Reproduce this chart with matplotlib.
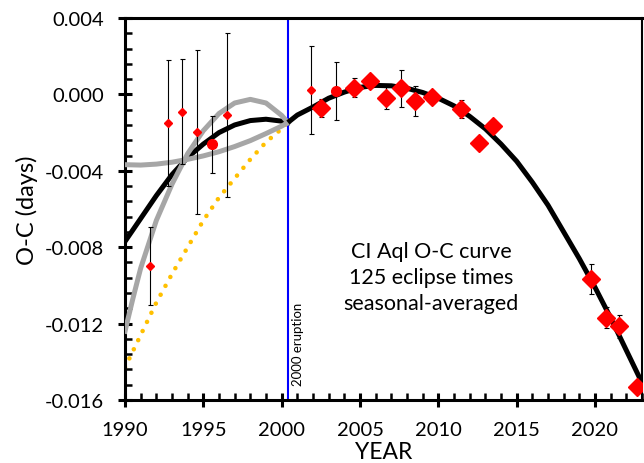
import matplotlib
matplotlib.use('Agg')

import matplotlib.pyplot as plt
from matplotlib.ticker import MultipleLocator, FormatStrFormatter

plt.rcParams['font.family'] = ['Lato', 'DejaVu Sans']

# seasonal-averaged O-C points, small diamonds (sparse early data)
small_year = [1991.6, 1992.74, 1993.66, 1994.57, 1996.49, 2001.9]
small_oc = [-0.0090, -0.00152, -0.00091, -0.00197, -0.00106, 0.00023]
small_err = [0.00205, 0.0033, 0.00275, 0.0043, 0.0043, 0.0023]

# circles
circ_year = [1995.53, 2003.47]
circ_oc = [-0.00262, 0.00018]
circ_err = [0.0015, 0.0015]

# large diamonds
big_year = [2002.53, 2004.59, 2005.63, 2006.65, 2007.59, 2008.51, 2009.57,
            2011.44, 2012.61, 2013.5, 2019.72, 2020.7, 2021.53, 2022.69]
big_oc = [-0.00071, 0.00035, 0.0007, -0.00021, 0.00031, -0.00035, -0.00014,
          -0.00077, -0.00255, -0.00166, -0.00966, -0.01169, -0.01214, -0.01534]
big_err = [0.00047, 0.0005, 0.0003, 0.00058, 0.00095, 0.0008, 0.0003,
           0.00046, 0.0003, 0.0003, 0.0008, 0.00056, 0.0006, 0.0003]

# fitted curves
fit_post_year = [2000.4, 2001, 2002, 2003, 2004, 2005, 2006, 2007, 2008,
                 2009, 2010, 2011, 2012, 2013, 2014, 2015, 2016, 2017, 2018,
                 2019, 2020, 2021, 2022, 2023]
fit_post_oc = [-0.00147, -0.00108, -0.00066, -0.0002, 0.00012, 0.00037,
               0.00047, 0.00045, 0.00032, 0.0001, -0.0002, -0.0006,
               -0.00115, -0.0018, -0.0026, -0.0035, -0.0046, -0.0058,
               -0.0072, -0.0086, -0.0101, -0.0117, -0.0134, -0.0151]

fit_pre_year = [1990, 1991, 1992, 1993, 1994, 1995, 1996, 1997, 1998, 1999,
                2000, 2000.4]
fit_pre_oc = [-0.0077, -0.0065, -0.0053, -0.0042, -0.0033, -0.0026, -0.0020,
              -0.0016, -0.00137, -0.0013, -0.0014, -0.00147]

steep_year = [1990, 1990.5, 1991, 1992, 1993, 1994, 1995, 1996, 1997, 1998,
              1999, 2000, 2000.4]
steep_oc = [-0.0124, -0.0107, -0.0091, -0.0066, -0.0047, -0.0031, -0.0019,
            -0.0010, -0.00045, -0.00026, -0.00045, -0.0011, -0.00147]

flat_year = [1990, 1991, 1992, 1993, 1994, 1995, 1996, 1997, 1998, 1999,
             2000, 2000.4]
flat_oc = [-0.00368, -0.00370, -0.00365, -0.00355, -0.00340, -0.00322,
           -0.00300, -0.00273, -0.00242, -0.00205, -0.00166, -0.00147]

dot_year = [1990, 1991, 1992, 1993, 1994, 1995, 1996, 1997, 1998, 1999,
            2000, 2000.4]
dot_oc = [-0.0143, -0.0126, -0.0109, -0.0094, -0.0080, -0.0066, -0.0054,
          -0.0044, -0.0034, -0.0025, -0.0018, -0.00147]

eruption_year = 2000.4

fig = plt.figure(figsize=(6.44, 4.64), dpi=100)
ax = fig.add_axes([125 / 644, 63 / 464, 517 / 644, 382 / 464])

# curves
ax.plot(dot_year, dot_oc, color='#FFC000', linewidth=3.3,
        linestyle=(0, (0.01, 2.2)), dash_capstyle='round', zorder=2)
ax.plot(fit_pre_year, fit_pre_oc, color='black', linewidth=3.6, zorder=3)
ax.plot(steep_year, steep_oc, color='#A6A6A6', linewidth=3.6, zorder=3)
ax.plot(flat_year, flat_oc, color='#A6A6A6', linewidth=3.6, zorder=3)
ax.plot(fit_post_year, fit_post_oc, color='black', linewidth=3.6, zorder=3,
        solid_capstyle='butt')

ax.axvline(eruption_year, color='#0000FF', linewidth=1.5, zorder=2)

# data points
ebkw = dict(ecolor='black', elinewidth=0.8, capsize=1.8, capthick=0.8,
            linestyle='none')
ax.errorbar(small_year, small_oc, yerr=small_err, fmt='D', ms=3.8,
            mfc='red', mec='red', zorder=4, **ebkw)
ax.errorbar(circ_year, circ_oc, yerr=circ_err, fmt='o', ms=7,
            mfc='red', mec='red', zorder=4, **ebkw)
ax.errorbar(big_year, big_oc, yerr=big_err, fmt='D', ms=9,
            mfc='red', mec='red', zorder=4, **ebkw)

# axes
ax.set_xlim(1990, 2023)
ax.set_ylim(-0.016, 0.004)
ax.xaxis.set_major_locator(MultipleLocator(5))
ax.xaxis.set_minor_locator(MultipleLocator(1))
ax.yaxis.set_major_locator(MultipleLocator(0.004))
ax.yaxis.set_minor_locator(MultipleLocator(0.0008))
ax.yaxis.set_major_formatter(FormatStrFormatter('%.3f'))

ax.tick_params(which='major', direction='inout', length=10, width=2.2,
               labelsize=14.5, pad=10)
ax.tick_params(which='minor', direction='in', length=5, width=1.8)
ax.tick_params(top=False, right=False, which='both')

for side in ('left', 'bottom', 'top'):
  ax.spines[side].set_linewidth(2.2)
ax.spines['right'].set_linewidth(1.5)

ax.set_xlabel('YEAR', fontsize=16.5)
ax.set_ylabel('O-C (days)', fontsize=17)
ax.xaxis.set_label_coords(0.5, -0.136)
ax.xaxis.label.set_va('center')
ax.yaxis.set_label_coords(-0.19, 0.5)
ax.yaxis.label.set_va('center')

ax.text(0.592, 0.322, 'CI Aql O-C curve\n125 eclipse times\nseasonal-averaged',
        transform=ax.transAxes, ha='center', va='center', fontsize=15.5,
        linespacing=1.4)
ax.text(0.335, 0.149, '2000 eruption', transform=ax.transAxes, rotation=90,
        ha='center', va='center', fontsize=9.5)

plt.savefig('out.png', dpi=100)
